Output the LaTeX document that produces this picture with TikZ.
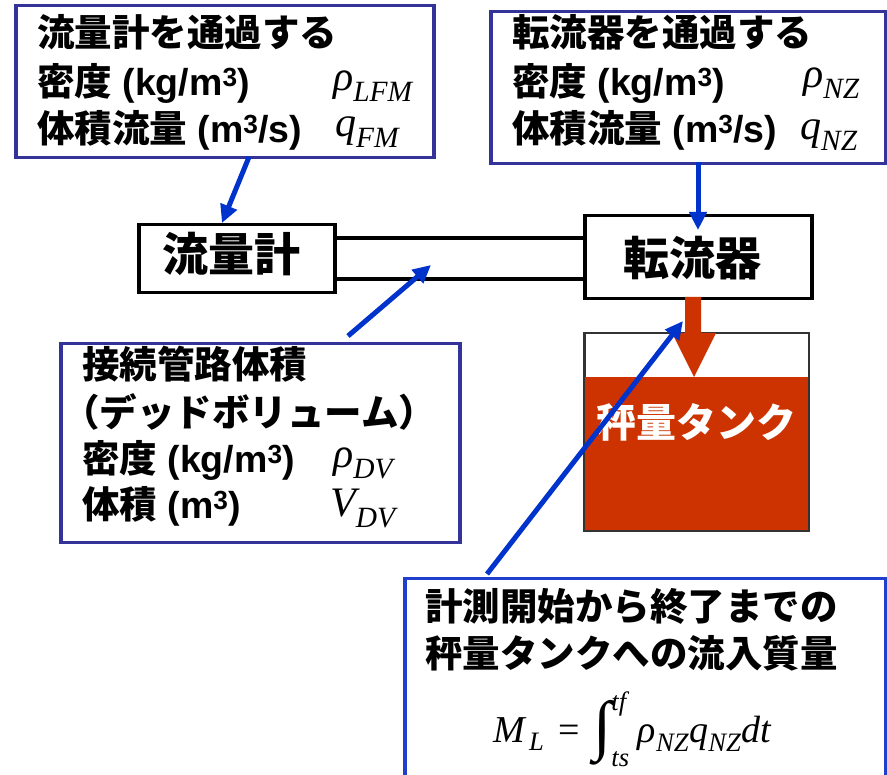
\documentclass[tikz,border=0pt]{standalone}
\usepackage{fontspec}
\usepackage{amsmath}
\setmainfont{Liberation Sans}
\newfontfamily\jp{Noto Sans CJK JP}
\newfontfamily\tms{Liberation Serif}
\usetikzlibrary{arrows.meta}
\definecolor{boxblue}{HTML}{333399}
\definecolor{arrblue}{HTML}{0033CC}
\definecolor{botblue}{HTML}{1F3FCC}
\definecolor{tankred}{HTML}{CC3300}
\newcommand\tv[1]{\text{\tms\itshape #1}}
\begin{document}
\begin{tikzpicture}[x=1pt,y=-1pt,
  infobox/.style={draw=boxblue, line width=3.5pt, fill=white, anchor=north west, inner sep=0pt},
  devbox/.style={draw=black, line width=3.5pt, fill=white, anchor=north west, inner sep=0pt},
  devlbl/.style={inner sep=0pt, font=\fontsize{46}{50}\selectfont\bfseries\jp},
  lbl/.style={anchor=base west, inner sep=0pt, font=\fontsize{37.5}{42}\selectfont\bfseries},
  var/.style={anchor=base west, inner sep=0pt, font=\fontsize{42}{46}\selectfont},
  pipe/.style={draw=black, line width=3.5pt},
  arr/.style={draw=arrblue, line width=5pt, -{Triangle[length=18pt,width=17pt]}}]
\useasboundingbox (0,0) rectangle (887,775);

% info boxes
\node[infobox, minimum width=418pt, minimum height=152pt] (tl) at (14,4) {};
\node[infobox, minimum width=395pt, minimum height=152pt] (tr) at (489,10) {};
\node[infobox, minimum width=399pt, minimum height=199pt] (dv) at (59,342) {};
\node[infobox, draw=botblue, minimum width=481pt, minimum height=230pt] (bt) at (403,577) {};

% devices
\node[devbox, minimum width=196pt, minimum height=68pt] (fm) at (137,223) {};
\node[devbox, minimum width=227pt, minimum height=83pt] (nz) at (583,214) {};
\node[devlbl] (fmlbl) at (231,254) {流量計};
\node[devlbl] (nzlbl) at (692,258) {転流器};

% pipe
\coordinate (p1) at (333,238); \coordinate (p2) at (583,238);
\coordinate (p3) at (333,279); \coordinate (p4) at (583,279);
\draw[pipe] (p1) -- (p2);
\draw[pipe] (p3) -- (p4);

% tank
\node[draw=black!80, line width=1.5pt, fill=white, anchor=north west, inner sep=0pt,
  minimum width=224pt, minimum height=197pt] (tank) at (584,333) {};
\fill[tankred] (584,377) rectangle (808,530);
\draw[draw=black!80, line width=1.5pt] (tank.north west) rectangle (tank.south east);
\fill[tankred] (685,297) -- (701,297) -- (701,333) -- (716,333) -- (694,377) -- (672,333) -- (685,333) -- cycle;
\node[anchor=base, inner sep=0pt, text=white, font=\fontsize{40}{44}\selectfont\bfseries\jp] (tanklbl) at (696,438) {秤量タンク};

% texts top-left
\node[lbl] (tl1) at (37,47) {\jp 流量計を通過する};
\node[lbl] (tl2) at (37,96) {{\jp 密度} (kg/m\textsuperscript{3})};
\node[lbl] (tl3) at (37,143) {{\jp 体積流量} (m\textsuperscript{3}/s)};
\node[var] (tl4) at (333,91) {$\tv{ρ}_{\tv{LFM}}$};
\node[var] (tl5) at (335,137) {$\tv{q}_{\tv{FM}}$};

% texts top-right
\node[lbl] (tr1) at (512,47) {\jp 転流器を通過する};
\node[lbl] (tr2) at (512,96) {{\jp 密度} (kg/m\textsuperscript{3})};
\node[lbl] (tr3) at (512,143) {{\jp 体積流量} (m\textsuperscript{3}/s)};
\node[var] (tr4) at (803,88) {$\tv{ρ}_{\tv{NZ}}$};
\node[var] (tr5) at (800,140) {$\tv{q}_{\tv{NZ}}$};

% texts dead volume
\node[lbl] (dv1) at (82,379) {\jp 接続管路体積};
\node[lbl] (dv2) at (62,427) {\jp （デッドボリューム）};
\node[lbl] (dv3) at (82,473) {{\jp 密度} (kg/m\textsuperscript{3})};
\node[lbl] (dv4) at (82,519) {{\jp 体積} (m\textsuperscript{3})};
\node[var] (dv5) at (333,468) {$\tv{ρ}_{\tv{DV}}$};
\node[var] (dv6) at (330,517) {$\tv{V}_{\tv{DV}}$};

% texts bottom
\node[lbl] (bt1) at (425,620) {\jp 計測開始から終了までの};
\node[lbl] (bt2) at (425,667) {\jp 秤量タンクへの流入質量};
\node[anchor=base west, inner sep=0pt, font=\fontsize{38}{44}\selectfont] (ml) at (493,742)
  {$\tv{M}_{\,\tv{L}} \;\mathrel{\text{\tms =}}\; \mathop{\text{\raisebox{-0.15em}{\tms\fontsize{66}{66}\selectfont ∫}}}\nolimits_{\tv{ts}}^{\tv{tf}}\, \tv{ρ}_{\tv{NZ}}\tv{q}_{\tv{NZ}}\tv{dt}$};

% arrows
\coordinate (a1s) at (249,157); \coordinate (a1e) at (222,223);
\coordinate (a2s) at (698,162); \coordinate (a2e) at (698,230);
\coordinate (a3s) at (348,336); \coordinate (a3e) at (431,265);
\coordinate (a4s) at (487,574); \coordinate (a4e) at (683,321);
\draw[arr] (a1s) -- (a1e);
\draw[arr] (a2s) -- (a2e);
\draw[arr] (a3s) -- (a3e);
\draw[arr] (a4s) -- (a4e);
\end{tikzpicture}
\end{document}
